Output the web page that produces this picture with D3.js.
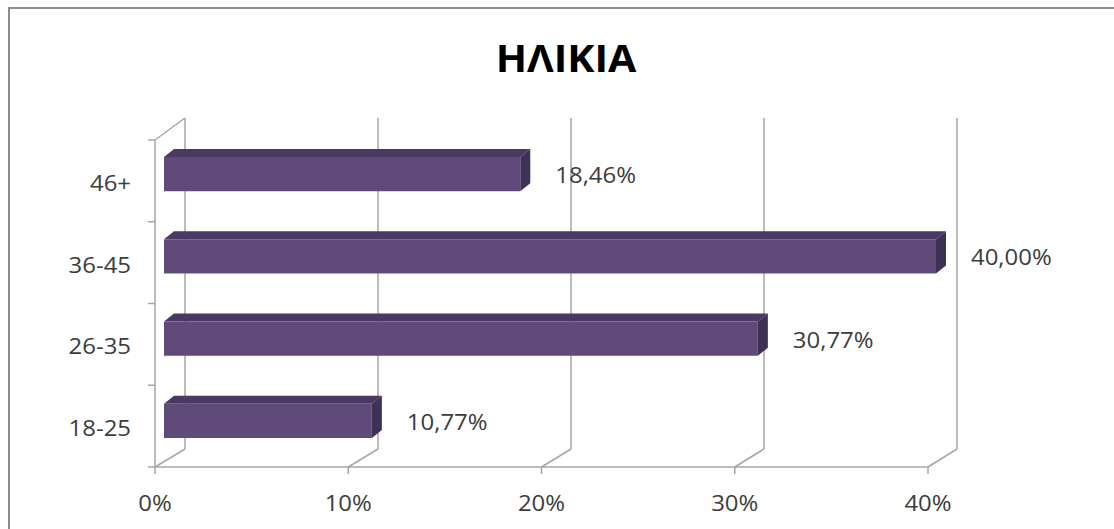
<!DOCTYPE html>
<html>
<head>
<meta charset="utf-8">
<script src="https://cdn.jsdelivr.net/npm/d3@7"></script>
<style>
  html, body { margin: 0; padding: 0; background: #ffffff; }
  svg { display: block; }
</style>
</head>
<body>
<svg id="chart" width="1114" height="529"></svg>
<script>
// ---- data ----
const title = "ΗΛΙΚΙΑ";
const categories = ["18-25", "26-35", "36-45", "46+"];
const values = [10.77, 30.77, 40.00, 18.46];
const valueLabels = ["10,77%", "30,77%", "40,00%", "18,46%"];
const xTicks = [0, 10, 20, 30, 40];
const xTickLabels = ["0%", "10%", "20%", "30%", "40%"];

// ---- layout ----
const svg = d3.select("#chart");
const FONT = "'Open Sans', 'Liberation Sans', sans-serif";
const textCol = "#3c3c3c";
const gridCol = "#a6a6a6";

const xFront = d3.scaleLinear().domain([0, 40]).range([155, 928]);
const xBack = d3.scaleLinear().domain([0, 40]).range([185, 957]);
const xBar = d3.scaleLinear().domain([0, 40]).range([164, 936]);
const yCat = d3.scaleBand().domain(categories).range([467, 140]);
const yBar = d3.scaleBand().domain(categories).range([462, 133])
  .paddingInner(0.584).paddingOuter(0.292);

const frontBottom = 467, frontTop = 140, backBottom = 449, backTop = 118;
const bdx = 10, bdy = 8;

function label(g, x, y, txt, anchor, size, sx, weight) {
  g.append("text")
    .attr("transform", `translate(${x},${y}) scale(${sx},1)`)
    .attr("text-anchor", anchor)
    .attr("dominant-baseline", "central")
    .attr("font-family", FONT)
    .attr("font-size", size)
    .attr("font-weight", weight || 400)
    .attr("fill", weight ? "#000" : textCol)
    .text(txt);
}

// frame
svg.append("rect").attr("x", 9).attr("y", 8).attr("width", 1120).attr("height", 540)
  .attr("fill", "none").attr("stroke", "#8c8c8c").attr("stroke-width", 2);

// title
label(svg, 566, 58, title, "middle", 38, 1.08, 700);

const grid = svg.append("g").attr("stroke", gridCol).attr("stroke-width", 1.5).attr("fill", "none");
// back wall verticals + floor diagonals + ticks
xTicks.forEach(t => {
  grid.append("line").attr("x1", xBack(t)).attr("x2", xBack(t)).attr("y1", backTop).attr("y2", backBottom);
  grid.append("line").attr("x1", xFront(t)).attr("y1", frontBottom).attr("x2", xBack(t)).attr("y2", backBottom);
  grid.append("line").attr("x1", xFront(t)).attr("x2", xFront(t)).attr("y1", frontBottom).attr("y2", frontBottom + 7);
});
// floor front line
grid.append("line").attr("x1", xFront(0)).attr("x2", xFront(40)).attr("y1", frontBottom).attr("y2", frontBottom);
// side wall front edge + top diagonal
grid.append("line").attr("x1", xFront(0)).attr("x2", xFront(0)).attr("y1", frontTop).attr("y2", frontBottom);
grid.append("line").attr("x1", xFront(0)).attr("y1", frontTop).attr("x2", xBack(0)).attr("y2", backTop);
// category ticks
const catBounds = categories.map(c => yCat(c)).concat([frontBottom]);
catBounds.forEach(y => {
  grid.append("line").attr("x1", xFront(0) - 7).attr("x2", xFront(0)).attr("y1", y).attr("y2", y);
});

// bars
const bars = svg.append("g");
categories.forEach((c, i) => {
  const x0 = xBar(0), x1 = xBar(values[i]);
  const yT = yBar(c), yB = yT + yBar.bandwidth();
  bars.append("polygon")
    .attr("points", [[x0, yT], [x0 + bdx, yT - bdy], [x1 + bdx, yT - bdy], [x1, yT]].join(" "))
    .attr("fill", "#4a3963");
  bars.append("polygon")
    .attr("points", [[x1, yT], [x1 + bdx, yT - bdy], [x1 + bdx, yB - bdy], [x1, yB]].join(" "))
    .attr("fill", "#3f3055");
  bars.append("rect").attr("x", x0).attr("y", yT).attr("width", x1 - x0).attr("height", yB - yT)
    .attr("fill", "#5f4a7a");
});

// data labels
const dl = svg.append("g");
categories.forEach((c, i) => {
  label(dl, xBar(values[i]) + 35, yBar(c) + yBar.bandwidth() / 2 + 1, valueLabels[i], "start", 21, 1.14);
});

// category labels
const cl = svg.append("g");
categories.forEach(c => {
  label(cl, 131, yCat(c) + yCat.bandwidth() / 2 + 2, c, "end", 21, 1.14);
});

// x tick labels
const xl = svg.append("g");
xTicks.forEach((t, i) => {
  label(xl, xFront(t), 503, xTickLabels[i], "middle", 21, 1.14);
});
</script>
</body>
</html>
